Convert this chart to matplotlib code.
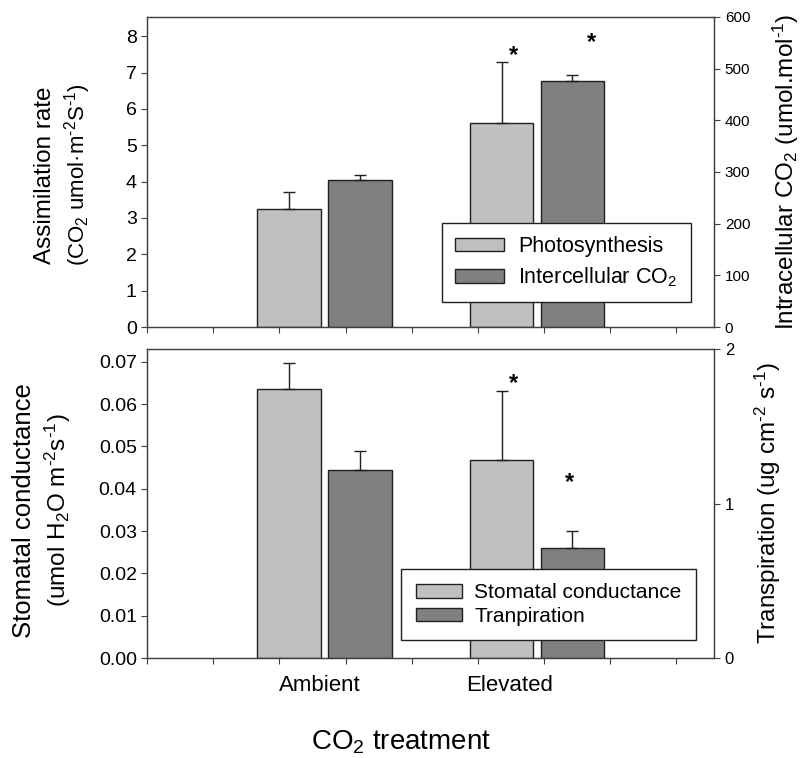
import numpy as np
import matplotlib.pyplot as plt
from matplotlib.patches import Patch
from matplotlib.ticker import FormatStrFormatter

plt.rcParams['font.family'] = ['Liberation Sans', 'DejaVu Sans']
plt.rcParams['mathtext.fontset'] = 'custom'
plt.rcParams['mathtext.rm'] = 'Liberation Sans'
plt.rcParams['mathtext.it'] = 'Liberation Sans:italic'
plt.rcParams['mathtext.bf'] = 'Liberation Sans:bold'

groups = ["Ambient", "Elevated"]
# bar centres on the 0..8 tick grid of the x axis
pos_light = [2.145, 5.36]
pos_dark = [3.22, 6.43]
label_pos = [2.61, 5.48]
bar_w = 0.96

# top panel: assimilation (left axis) and intercellular CO2 (right axis)
photo = [3.24, 5.62]
photo_err = [0.47, 1.68]
ci = [284, 477]
ci_err = [10, 10]
# bottom panel: stomatal conductance (left) and transpiration (right)
gs = [0.0636, 0.0468]
gs_err = [0.0061, 0.0162]
tr = [1.217, 0.712]
tr_err = [0.121, 0.108]

# significance asterisks (x, y) in the axis units of each series
star_photo = (5.54, 7.48)
star_ci = (6.72, 550)
star_gs = (5.54, 0.0648)
star_tr = (6.39, 1.139)

light = '#c0c0c0'
dark = '#808080'
edge = '#202020'
spc = '#404040'
hy = r'\text{-}'

fig = plt.figure(figsize=(8, 7.58), dpi=100)
ax1 = fig.add_axes([0.184, 0.5686, 0.709, 0.409])
ax2 = fig.add_axes([0.184, 0.1319, 0.709, 0.4077])


def style_axes(ax, ax_r):
    ax.set_xlim(0, 8.58)
    ax.set_xticks(np.arange(0, 9), minor=True)
    ax.set_xticks(label_pos)
    ax.tick_params(axis='x', which='minor', direction='out', length=4.5, width=0.8, color=spc)
    ax.tick_params(axis='x', which='major', length=0)
    ax.tick_params(axis='y', direction='out', length=4, width=0.8, color=spc)
    ax_r.tick_params(axis='y', direction='out', length=4, width=0.8, color=spc)
    for a in (ax, ax_r):
        for s in a.spines.values():
            s.set_color(spc)
            s.set_linewidth(0.9)


def vlabel(x_px, y_frac, s, size):
    fig.text(x_px / 800, y_frac, s, rotation=90, fontsize=size, ha='center', va='center',
             rotation_mode='anchor')


ekw = dict(ecolor='#202020', elinewidth=1, capsize=4.5, capthick=1)

# ---- top panel
ax1r = ax1.twinx()
ax1.bar(pos_light, photo, width=bar_w, color=light, edgecolor=edge, linewidth=1,
        yerr=[[0, 0], photo_err], error_kw=ekw)
ax1r.bar(pos_dark, ci, width=bar_w, color=dark, edgecolor=edge, linewidth=1,
         yerr=[[0, 0], ci_err], error_kw=ekw)
ax1.set_ylim(0, 8.53)
ax1.set_yticks(np.arange(0, 9))
ax1r.set_ylim(0, 600)
ax1r.set_yticks(np.arange(0, 601, 100))
style_axes(ax1, ax1r)
ax1.set_xticklabels([])
ax1.tick_params(axis='y', labelsize=14)
ax1r.tick_params(axis='y', labelsize=11)
ax1.text(*star_photo, '*', fontsize=17, fontweight='bold', ha='center', va='center')
ax1r.text(*star_ci, '*', fontsize=17, fontweight='bold', ha='center', va='center')
h1 = [Patch(facecolor=light, edgecolor=edge), Patch(facecolor=dark, edgecolor=edge)]
leg1 = ax1r.legend(h1, ['Photosynthesis', 'Intercellular CO$_2$'], loc='lower right',
                   bbox_to_anchor=(0.958, 0.08), fontsize=15.5, frameon=True, fancybox=False,
                   edgecolor='#202020', framealpha=1, handlelength=2.3, handleheight=0.6,
                   handletextpad=0.65, borderpad=0.6, labelspacing=0.4, borderaxespad=0)
leg1.get_frame().set_linewidth(1)

vlabel(45, 0.769, 'Assimilation rate', 17.5)
vlabel(78, 0.769, '(CO$_2$ umol·m$^{%s2}$S$^{%s1}$)' % (hy, hy), 16)
vlabel(786, 0.773, 'Intracellular CO$_2$ (umol.mol$^{%s1}$)' % hy, 17.5)

# ---- bottom panel
ax2r = ax2.twinx()
ax2.bar(pos_light, gs, width=bar_w, color=light, edgecolor=edge, linewidth=1,
        yerr=[[0, 0], gs_err], error_kw=ekw)
ax2r.bar(pos_dark, tr, width=bar_w, color=dark, edgecolor=edge, linewidth=1,
         yerr=[[0, 0], tr_err], error_kw=ekw)
ax2.set_ylim(0, 0.073)
ax2.set_yticks(np.arange(0, 0.0701, 0.01))
ax2.yaxis.set_major_formatter(FormatStrFormatter('%.2f'))
ax2r.set_ylim(0, 2)
ax2r.set_yticks([0, 1, 2])
style_axes(ax2, ax2r)
ax2.set_xticklabels(groups, fontsize=16)
ax2.tick_params(axis='x', which='major', pad=12)
ax2.tick_params(axis='y', labelsize=14)
ax2r.tick_params(axis='y', labelsize=12)
ax2.text(*star_gs, '*', fontsize=17, fontweight='bold', ha='center', va='center')
ax2r.text(*star_tr, '*', fontsize=17, fontweight='bold', ha='center', va='center')
h2 = [Patch(facecolor=light, edgecolor=edge), Patch(facecolor=dark, edgecolor=edge)]
leg2 = ax2r.legend(h2, ['Stomatal conductance', 'Tranpiration'], loc='lower right',
                   bbox_to_anchor=(0.968, 0.058), fontsize=15, frameon=True, fancybox=False,
                   edgecolor='#202020', framealpha=1, handlelength=2.2, handleheight=0.6,
                   handletextpad=0.6, borderpad=0.7, labelspacing=0.2, borderaxespad=0)
leg2.get_frame().set_linewidth(1)

vlabel(24, 0.327, 'Stomatal conductance', 18.5)
vlabel(58, 0.327, '(umol H$_2$O m$^{%s2}$s$^{%s1}$)' % (hy, hy), 17.5)
vlabel(768, 0.3357, 'Transpiration (ug cm$^{%s2}$ s$^{%s1}$)' % (hy, hy), 17.5)

fig.text(0.501, 0.0106, 'CO$_2$ treatment', fontsize=20, ha='center', va='baseline')

fig.savefig('out.png', dpi=100)
